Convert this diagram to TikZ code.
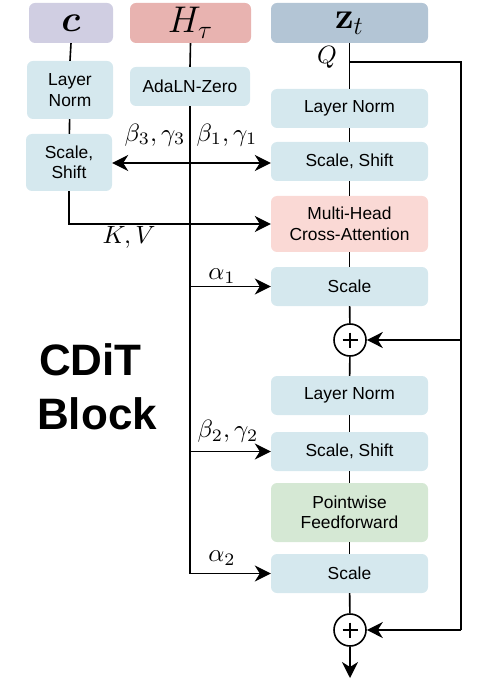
\documentclass[tikz,border=0pt]{standalone}
\usepackage{amsmath}
\usepackage{graphicx}
\usepackage[no-math]{fontspec}
\setmainfont{Liberation Sans}
\usetikzlibrary{arrows.meta}
\definecolor{cpur}{HTML}{D0CEE2}
\definecolor{hpink}{HTML}{E8B3B0}
\definecolor{zblue}{HTML}{B3C5D5}
\definecolor{lblue}{HTML}{D5E8EE}
\definecolor{lpink}{HTML}{FAD9D5}
\definecolor{lgreen}{HTML}{D5E8D4}
\newcommand{\hmath}[1]{\scalebox{2.15}{$#1$}}
\newcommand{\lmath}[1]{\scalebox{2.5}{$#1$}}
\tikzset{
  blk/.style={rounded corners=6pt, inner sep=0pt, align=center, font=\fontsize{17.4}{20.5}\selectfont},
  hdr/.style={blk, minimum height=40pt},
  lnk/.style={line width=1.6pt},
  arr/.style={lnk, -{Stealth[length=16pt,width=16pt,inset=5pt]}},
  lab/.style={inner sep=0pt},
  plus/.style={circle, draw, line width=1.6pt, minimum size=32pt, inner sep=0pt, fill=white},
}
\begin{document}
\begin{tikzpicture}[x=1pt,y=-1pt]
\useasboundingbox (0,0) rectangle (484,700);
% headers
\node[hdr, fill=cpur, minimum width=84pt] (c) at (71,23) {\hmath{\boldsymbol{c}}};
\node[hdr, fill=hpink, minimum width=121pt] (h) at (190.5,23) {\hmath{H_\tau}};
\node[hdr, fill=zblue, minimum width=157pt] (z) at (349.5,23) {\hmath{\mathbf{z}_t}};
% left column
\node[blk, fill=lblue, minimum width=86pt, minimum height=58pt] (lln) at (70,90) {Layer\\Norm};
\node[blk, fill=lblue, minimum width=86pt, minimum height=57pt] (lss) at (69,162.5) {Scale,\\Shift};
% middle
\node[blk, fill=lblue, minimum width=120pt, minimum height=39pt] (ada) at (190,86.5) {AdaLN-Zero};
% right column
\node[blk, fill=lblue, minimum width=157pt, minimum height=39pt] (ln1) at (349.5,108.5) {Layer Norm};
\node[blk, fill=lblue, minimum width=157pt, minimum height=39pt] (ss1) at (349.5,161.5) {Scale, Shift};
\node[blk, fill=lpink, minimum width=157pt, minimum height=56pt] (mh) at (349.5,224) {Multi-Head\\Cross-Attention};
\node[blk, fill=lblue, minimum width=157pt, minimum height=39pt] (sc1) at (349.5,286.5) {Scale};
\node[plus] (p1) at (350,340) {};
\node[blk, fill=lblue, minimum width=157pt, minimum height=39pt] (ln2) at (349.5,395.5) {Layer Norm};
\node[blk, fill=lblue, minimum width=157pt, minimum height=39pt] (ss2) at (349.5,451.5) {Scale, Shift};
\node[blk, fill=lgreen, minimum width=157pt, minimum height=59pt] (pf) at (349.5,512.5) {Pointwise\\Feedforward};
\node[blk, fill=lblue, minimum width=157pt, minimum height=39pt] (sc2) at (349.5,573.5) {Scale};
\node[plus] (p2) at (350,630) {};
% plus signs
\draw[line width=1.3pt] (p1.center) +(-7.5,0) -- +(7.5,0) (p1.center) +(0,-7.5) -- +(0,7.5);
\draw[line width=1.3pt] (p2.center) +(-7.5,0) -- +(7.5,0) (p2.center) +(0,-7.5) -- +(0,7.5);
% CDiT Block
\node[anchor=base west, inner sep=0pt, font=\fontsize{44}{46}\selectfont\bfseries] (t1) at (39,375) {CDiT};
\node[anchor=base west, inner sep=0pt, font=\fontsize{44}{46}\selectfont\bfseries] (t2) at (37,429) {Block};
% coordinates
\coordinate (q) at (350,62);
\coordinate (r1) at (461,340);
\coordinate (r2) at (461,630);
\coordinate (hs) at (190,163);
\coordinate (ha1) at (190,286.5);
\coordinate (hb2) at (190,451.5);
\coordinate (ha2) at (190,573.5);
\coordinate (out) at (350,678);
% main spine
\draw[lnk] (z.south) -- (ln1.north);
\draw[lnk] (ln1) -- (ss1);
\draw[lnk] (ss1) -- (mh);
\draw[lnk] (mh) -- (sc1);
\draw[lnk] (sc1) -- (p1);
\draw[lnk] (p1) -- (ln2);
\draw[lnk] (ln2) -- (ss2);
\draw[lnk] (ss2) -- (pf);
\draw[lnk] (pf) -- (sc2);
\draw[lnk] (sc2) -- (p2);
\draw[arr] (p2) -- (out);
% residual
\draw[lnk] (q) -| (r2);
\draw[arr] (r1) -- (p1);
\draw[arr] (r2) -- (p2);
% left
\draw[lnk] (c.south) -- (lln.north);
\draw[lnk] (lln) -- (lss);
\draw[arr] (lss.south) |- (mh.west);
% H_tau
\draw[lnk] (h.south) -- (ada.north);
\draw[lnk] (ada.south) -- (ha2);
\draw[arr] (ha2) -- (sc2.west);
\draw[arr] (hs) -- (lss.east |- hs);
\draw[arr] (hs) -- (ss1.west |- hs);
\draw[arr] (ha1) -- (sc1.west);
\draw[arr] (hb2) -- (ss2.west);
% labels
\node[lab] (lq) at (327,57) {\lmath{Q}};
\node[lab] (lb3) at (155,135) {\lmath{\beta_3,\gamma_3}};
\node[lab] (lb1) at (227,135) {\lmath{\beta_1,\gamma_1}};
\node[lab] (lkv) at (129,237) {\lmath{K,V}};
\node[lab] (la1) at (222,276) {\lmath{\alpha_1}};
\node[lab] (lb2) at (228,431) {\lmath{\beta_2,\gamma_2}};
\node[lab] (la2) at (222,558) {\lmath{\alpha_2}};
\end{tikzpicture}
\end{document}
